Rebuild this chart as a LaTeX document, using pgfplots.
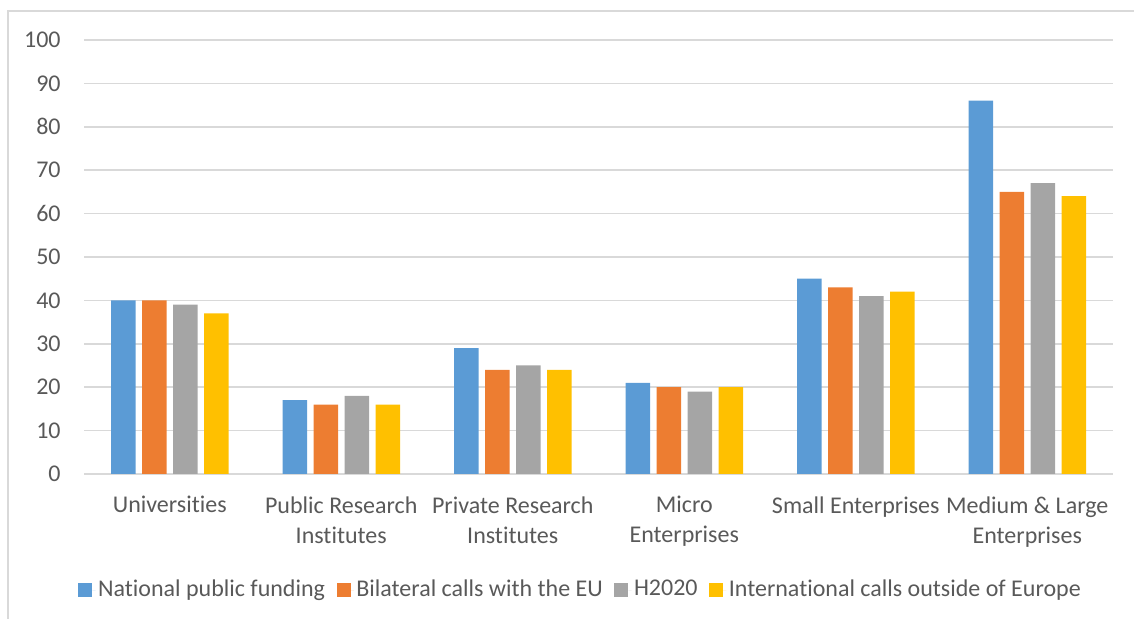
\documentclass[border=0pt]{standalone}
\usepackage{pgfplots}
\pgfplotsset{compat=1.18}
\usepackage{fontspec}
\setmainfont{Carlito}[Ligatures={NoCommon}]
\definecolor{cblue}{HTML}{5B9BD5}
\definecolor{corange}{HTML}{ED7D31}
\definecolor{cgray}{HTML}{A5A5A5}
\definecolor{cgold}{HTML}{FFC000}
\definecolor{gridc}{HTML}{D9D9D9}
\definecolor{txt}{HTML}{595959}
\pgfplotsset{sq/.style={legend image code/.code={\fill[##1] (0pt,-3.5pt) rectangle (7pt,3.5pt); \path (7pt,0pt) -- (8.6pt,0pt);}}}
\begin{document}
\fontsize{12pt}{15pt}\selectfont
\begin{tikzpicture}
\path[use as bounding box] (0,0) rectangle (567pt,309.5pt);
\draw[gridc, line width=1pt] (4pt,-2pt) -- (4pt,304pt) -- (570pt,304pt);
\begin{axis}[
  at={(42pt,72.5pt)}, anchor=south west,
  scale only axis, width=514.5pt, height=217pt,
  xmin=-0.5, xmax=5.5, ymin=0, ymax=100,
  ytick={0,10,...,100}, xtick={0,...,5},
  xticklabels={Universities, {Public Research\\Institutes}, {Private Research\\Institutes}, {Micro\\Enterprises}, {Small Enterprises}, {Medium \& Large\\Enterprises}},
  ybar=3.25pt, bar width=12.25pt,
  axis x line*=bottom, axis y line*=left,
  y axis line style={draw=none},
  x axis line style={gridc, line width=1pt},
  major tick length=0pt,
  ymajorgrids, grid style={gridc, line width=0.8pt},
  /pgf/number format/assume math mode=true,
  tick label style={text=txt, font=\fontsize{12pt}{15pt}\selectfont},
  yticklabel style={inner sep=0pt, anchor=east, xshift=-11.5pt},
  xticklabel style={inner sep=0pt, anchor=north, align=center, yshift=-11pt},
  legend columns=4,
  legend style={at={(-0.0058,-0.2673)}, anchor=west, draw=none, fill=none, inner sep=0pt,
    font=\fontsize{12pt}{15pt}\selectfont, text=txt,
    nodes={inner sep=1.25pt, text=txt},
    /tikz/every even column/.append style={column sep=4.5pt}},
]
\addplot[fill=cblue, draw=none, sq] coordinates {(0,40) (1,17) (2,29) (3,21) (4,45) (5,86)};
\addplot[fill=corange, draw=none, sq] coordinates {(0,40) (1,16) (2,24) (3,20) (4,43) (5,65)};
\addplot[fill=cgray, draw=none, sq] coordinates {(0,39) (1,18) (2,25) (3,19) (4,41) (5,67)};
\addplot[fill=cgold, draw=none, sq] coordinates {(0,37) (1,16) (2,24) (3,20) (4,42) (5,64)};
\legend{National public funding, Bilateral calls with the EU, H2020, International calls outside of Europe}
\end{axis}
\end{tikzpicture}
\end{document}
